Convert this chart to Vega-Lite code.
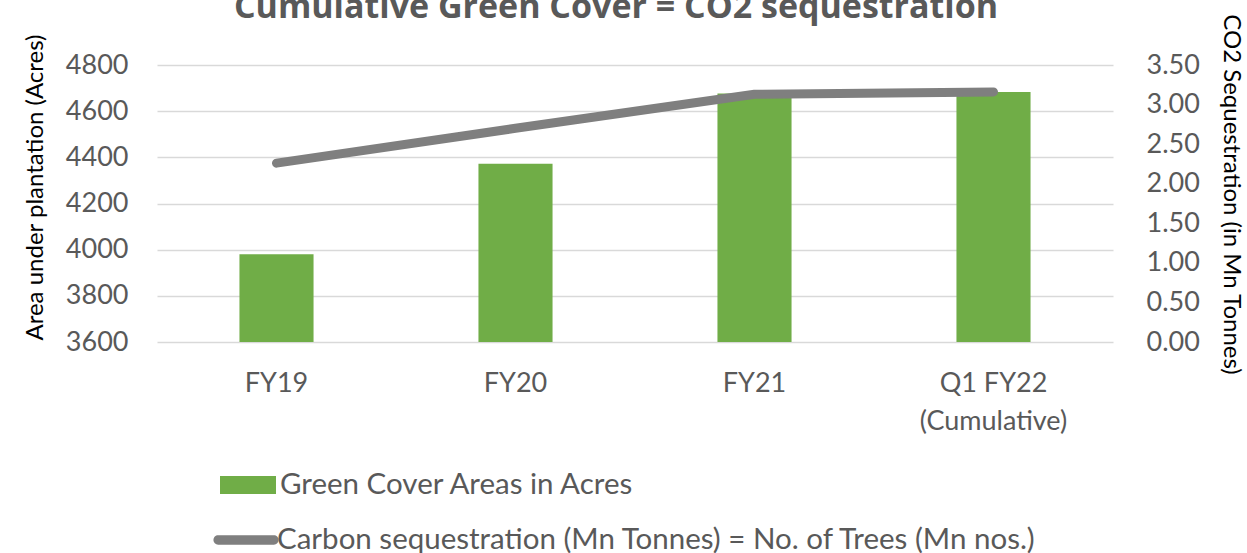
{
  "$schema": "https://vega.github.io/schema/vega-lite/v6.json",
  "autosize": {"type": "none"},
  "padding": {"left": 157, "top": 65, "right": 134, "bottom": 211},
  "width": 956,
  "height": 277,
  "background": "white",
  "title": {
    "text": "Cumulative Green Cover = CO2 sequestration",
    "font": "Open Sans",
    "fontSize": 34,
    "fontWeight": "bold",
    "color": "#595959",
    "anchor": "middle",
    "frame": "group",
    "dx": -19,
    "offset": -12
  },
  "config": {
    "view": {"stroke": null},
    "axis": {
      "labelFont": "Lato",
      "labelFontSize": 27,
      "labelColor": "#595959",
      "titleFont": "Lato",
      "titleFontWeight": "normal",
      "titleColor": "#000000",
      "domain": false,
      "ticks": false
    }
  },
  "data": {
    "values": [
      {"period": "FY19", "area": 3980, "co2": 2.26},
      {"period": "FY20", "area": 4372, "co2": 2.70},
      {"period": "FY21", "area": 4676, "co2": 3.13},
      {"period": "Q1 FY22 (Cumulative)", "area": 4683, "co2": 3.16}
    ]
  },
  "encoding": {
    "x": {
      "field": "period",
      "type": "nominal",
      "sort": null,
      "scale": {"paddingInner": 0.69, "paddingOuter": 0.345},
      "axis": {
        "title": null,
        "labelAngle": 0,
        "labelPadding": 28,
        "labelBaseline": "top",
        "labelLineHeight": 38,
        "labelExpr": "datum.value == 'Q1 FY22 (Cumulative)' ? ['Q1 FY22', '(Cumulative)'] : datum.value"
      }
    }
  },
  "layer": [
    {
      "mark": {"type": "bar", "clip": true},
      "encoding": {
        "y": {
          "field": "area",
          "type": "quantitative",
          "scale": {"domain": [3600, 4800], "zero": false, "nice": false},
          "axis": {
            "title": "Area under plantation (Acres)",
            "titleFontSize": 24,
            "titleBaseline": "middle",
            "titleX": -122,
            "titleY": 122,
            "values": [3600, 3800, 4000, 4200, 4400, 4600, 4800],
            "format": "d",
            "labelPadding": 29,
            "grid": true,
            "gridColor": "#D9D9D9",
            "gridWidth": 1.5
          }
        },
        "fill": {
          "datum": "Green Cover Areas in Acres",
          "type": "nominal",
          "scale": {"range": ["#70AD47"]},
          "legend": {
            "title": null,
            "orient": "none",
            "legendX": 63,
            "legendY": 392,
            "symbolType": "M-1,-0.32H1V0.32H-1Z",
            "symbolSize": 3136,
            "symbolStrokeWidth": 0,
            "labelFont": "Lato",
            "labelFontSize": 29.5,
            "labelColor": "#595959",
            "labelOffset": 4,
            "labelLimit": 0
          }
        }
      }
    },
    {
      "mark": {"type": "line", "strokeWidth": 9, "strokeCap": "round", "strokeJoin": "round"},
      "encoding": {
        "y": {
          "field": "co2",
          "type": "quantitative",
          "scale": {"domain": [0, 3.5], "nice": false},
          "axis": {
            "orient": "right",
            "title": "CO2 Sequestration (in Mn Tonnes)",
            "titleFontSize": 24,
            "titleBaseline": "middle",
            "titleX": 117,
            "titleY": 129,
            "values": [0, 0.5, 1, 1.5, 2, 2.5, 3, 3.5],
            "format": ".2f",
            "labelPadding": 33,
            "grid": false
          }
        },
        "stroke": {
          "datum": "Carbon sequestration (Mn Tonnes) = No. of Trees (Mn nos.)",
          "type": "nominal",
          "scale": {"range": ["#7F7F7F"]},
          "legend": {
            "title": null,
            "orient": "none",
            "legendX": 58,
            "legendY": 444,
            "symbolType": "M-0.9,-0.15H0.9A0.15,0.15 0 0 1 0.9,0.15H-0.9A0.15,0.15 0 0 1 -0.9,-0.15Z",
            "symbolSize": 3844,
            "symbolStrokeWidth": 0,
            "symbolFillColor": "#7F7F7F",
            "labelFont": "Lato",
            "labelFontSize": 29.5,
            "labelColor": "#595959",
            "labelOffset": 0,
            "labelLimit": 0,
            "encode": {"symbols": {"update": {"fill": {"value": "#7F7F7F"}, "strokeWidth": {"value": 0}}}}
          }
        }
      }
    }
  ],
  "resolve": {"scale": {"y": "independent", "fill": "independent", "stroke": "independent"}}
}
